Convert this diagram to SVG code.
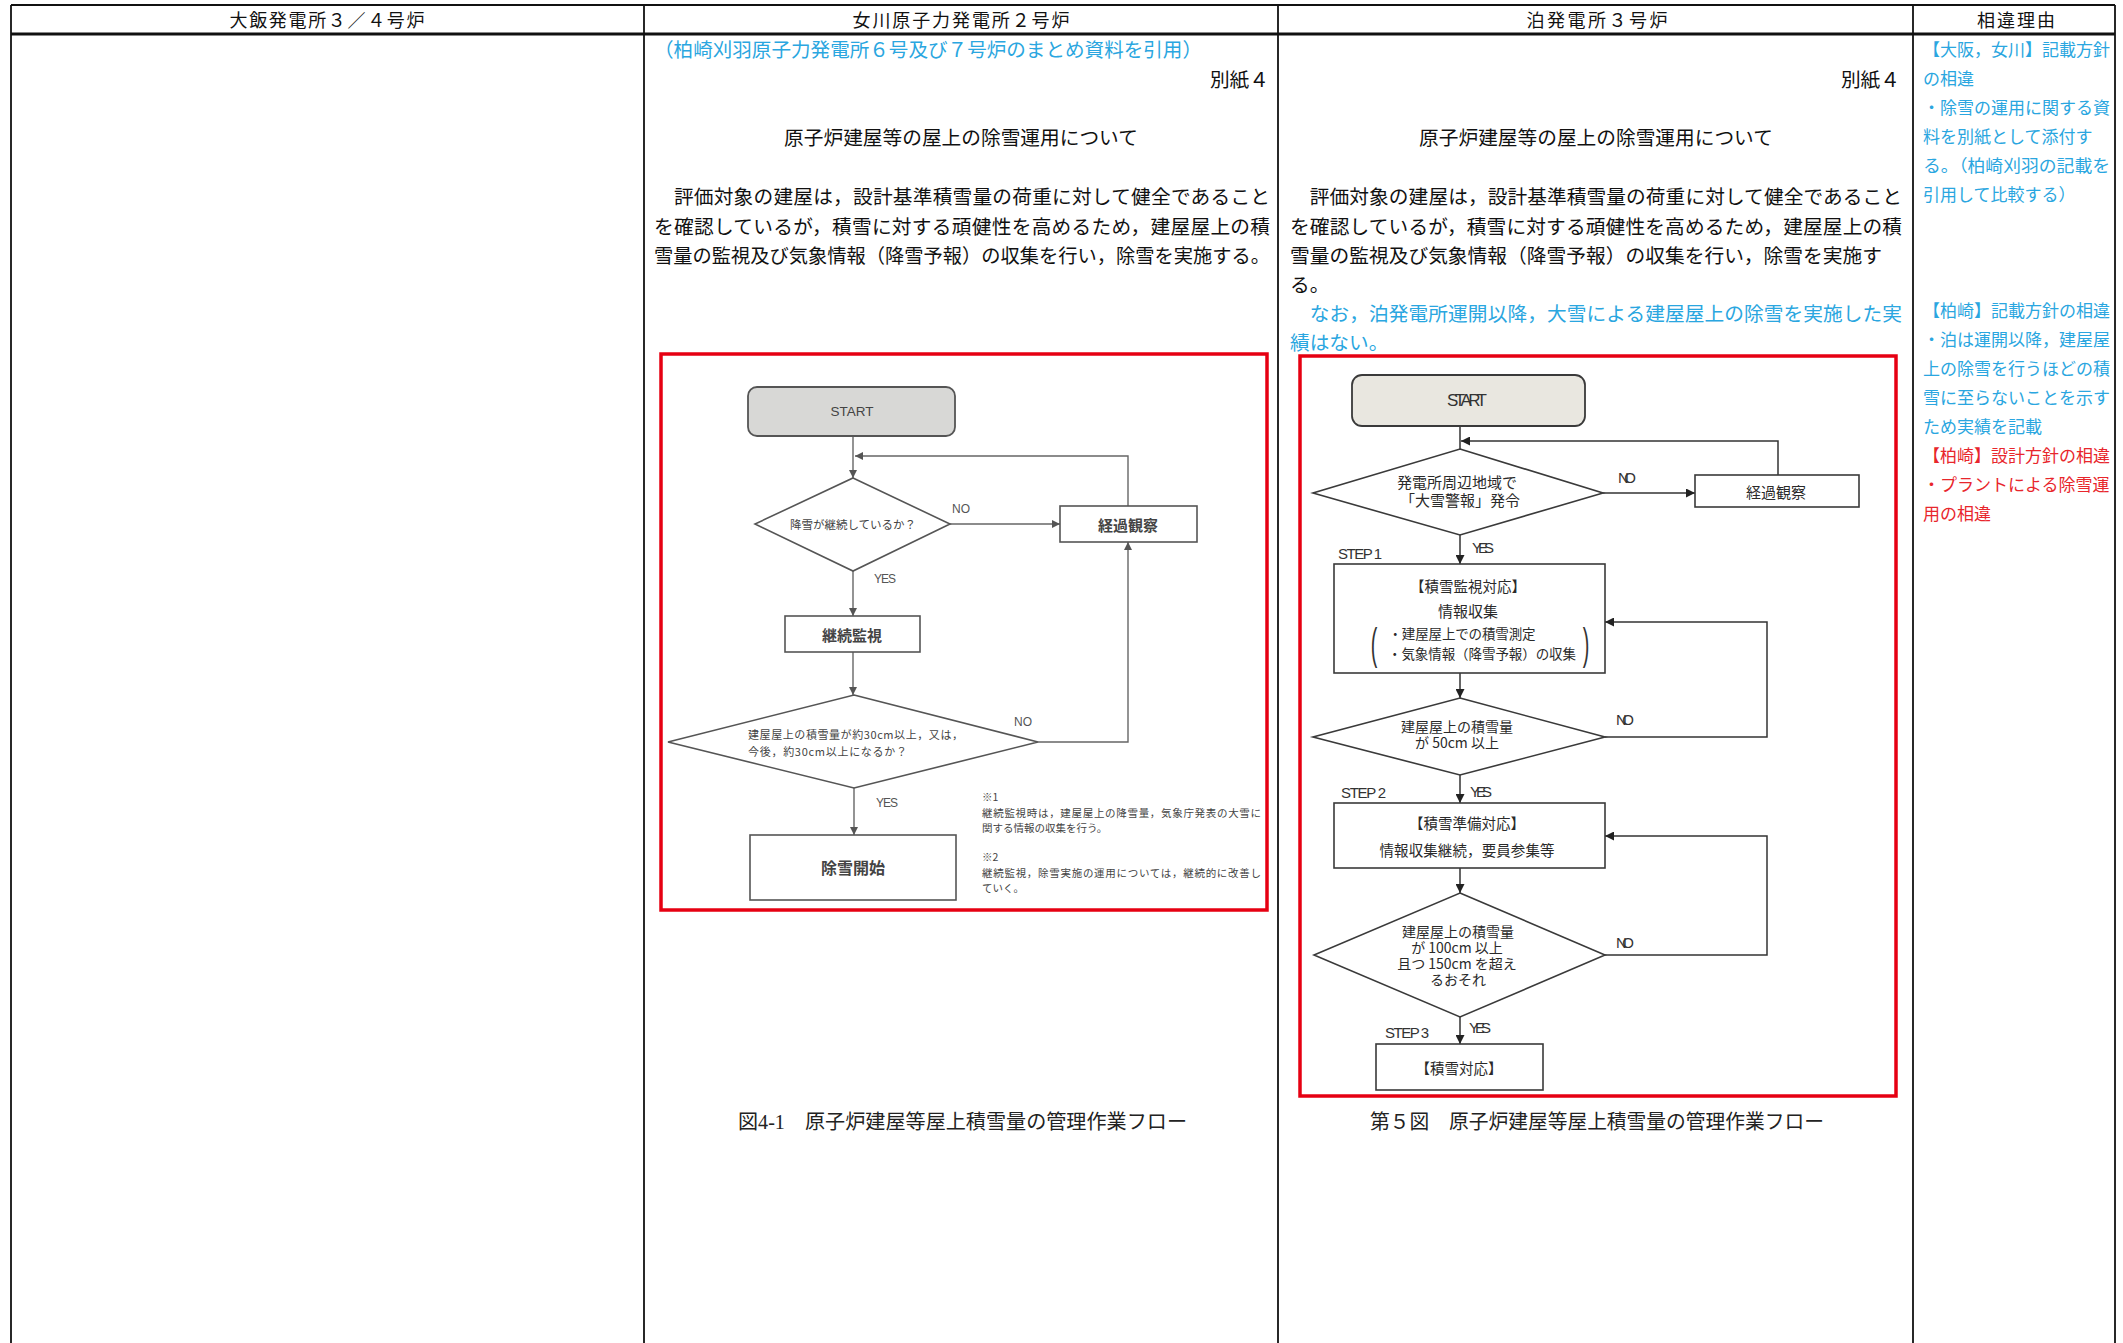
<svg xmlns="http://www.w3.org/2000/svg" width="2123" height="1343" viewBox="0 0 2123 1343">
<style>
 text { font-family: "Liberation Serif", "Noto Sans CJK JP", serif; }
 .hd { font-size: 18px; fill: #111; text-anchor: middle; dominant-baseline: central; }
 .p { font-size: 19.7px; fill: #111; dominant-baseline: central; }
 .blue { fill: #2aa6e0; }
 .red { fill: #e8262c; }
 .r4 { font-size: 17px; dominant-baseline: central; }
 .grid { stroke: #111; stroke-width: 1.8; fill: none; }
 .redbox { fill: none; stroke: #e60012; stroke-width: 3.5; }
 .o-shape { fill: #fff; stroke: #555; stroke-width: 1.6; }
 .o-start { fill: #d8d8d6; stroke: #555; stroke-width: 1.8; }
 .o-line { fill: none; stroke: #666; stroke-width: 1.4; }
 .o-t { font-family: "Noto Sans CJK JP", sans-serif; fill: #444; dominant-baseline: central; }
 .o-c { text-anchor: middle; }
 .o-lbl { font-family: "Liberation Sans", sans-serif; font-size: 12px; fill: #555; dominant-baseline: central; }
 .t-shape { fill: #fff; stroke: #3a3a3a; stroke-width: 1.6; }
 .t-start { fill: #e9e7e0; stroke: #3a3a3a; stroke-width: 1.8; }
 .t-line { fill: none; stroke: #333; stroke-width: 1.5; }
 .t-t { font-family: "Noto Sans CJK JP", sans-serif; fill: #2a2a2a; dominant-baseline: central; text-anchor: middle; font-size: 14.5px; }
 .t-lbl { font-family: "Liberation Sans", sans-serif; font-size: 15px; fill: #333; dominant-baseline: central; }
 .cap { font-size: 20px; fill: #222; dominant-baseline: central; }
</style>
<defs>
 <marker id="ao" viewBox="0 0 10 10" refX="10" refY="5" markerWidth="8" markerHeight="8" markerUnits="userSpaceOnUse" orient="auto"><path d="M0,0 L10,5 L0,10 z" fill="#555"/></marker>
 <marker id="at" viewBox="0 0 10 10" refX="10" refY="5" markerWidth="9" markerHeight="9" markerUnits="userSpaceOnUse" orient="auto"><path d="M0,0 L10,5 L0,10 z" fill="#222"/></marker>
</defs>
<rect width="2123" height="1343" fill="#fff"/>

<g id="table">
 <line class="grid" x1="11" y1="5" x2="2115" y2="5"/>
 <line class="grid" x1="11" y1="34" x2="2115" y2="34" style="stroke-width:3"/>
 <line class="grid" x1="11" y1="5" x2="11" y2="1343"/>
 <line class="grid" x1="644" y1="5" x2="644" y2="1343"/>
 <line class="grid" x1="1278" y1="5" x2="1278" y2="1343"/>
 <line class="grid" x1="1913" y1="5" x2="1913" y2="1343"/>
 <line class="grid" x1="2115" y1="5" x2="2115" y2="1343"/>
 <text class="hd" x="327" y="21" textLength="195">大飯発電所３／４号炉</text>
 <text class="hd" x="961" y="21" textLength="217">女川原子力発電所２号炉</text>
 <text class="hd" x="1597" y="21" textLength="141">泊発電所３号炉</text>
 <text class="hd" x="2016" y="21" textLength="78">相違理由</text>
</g>

<g id="onagawa-text">
 <text class="p blue" x="654" y="50" textLength="548" lengthAdjust="spacingAndGlyphs">（柏崎刈羽原子力発電所６号及び７号炉のまとめ資料を引用）</text>
 <text class="p" x="1269" y="80" text-anchor="end">別紙４</text>
 <text class="p" x="961" y="138" text-anchor="middle">原子炉建屋等の屋上の除雪運用について</text>
 <text class="p" x="654" y="197" textLength="616">　評価対象の建屋は，設計基準積雪量の荷重に対して健全であること</text>
 <text class="p" x="654" y="227" textLength="616">を確認しているが，積雪に対する頑健性を高めるため，建屋屋上の積</text>
 <text class="p" x="654" y="256" textLength="616" lengthAdjust="spacingAndGlyphs">雪量の監視及び気象情報（降雪予報）の収集を行い，除雪を実施する。</text>
 <text class="cap" x="738" y="1122" textLength="449" lengthAdjust="spacingAndGlyphs">図4-1　原子炉建屋等屋上積雪量の管理作業フロー</text>
</g>

<g id="tomari-text">
 <text class="p" x="1900" y="80" text-anchor="end">別紙４</text>
 <text class="p" x="1596" y="138" text-anchor="middle">原子炉建屋等の屋上の除雪運用について</text>
 <text class="p" x="1290" y="197" textLength="612">　評価対象の建屋は，設計基準積雪量の荷重に対して健全であること</text>
 <text class="p" x="1290" y="227" textLength="612">を確認しているが，積雪に対する頑健性を高めるため，建屋屋上の積</text>
 <text class="p" x="1290" y="256" textLength="592" lengthAdjust="spacingAndGlyphs">雪量の監視及び気象情報（降雪予報）の収集を行い，除雪を実施す</text>
 <text class="p" x="1290" y="285">る。</text>
 <text class="p blue" x="1290" y="314" textLength="612">　なお，泊発電所運開以降，大雪による建屋屋上の除雪を実施した実</text>
 <text class="p blue" x="1290" y="343">績はない。</text>
 <text class="cap" x="1370" y="1122" textLength="454" lengthAdjust="spacingAndGlyphs">第５図　原子炉建屋等屋上積雪量の管理作業フロー</text>
</g>

<g id="reasons">
 <text class="r4 blue" x="1923" y="50">【大阪，女川】記載方針</text>
 <text class="r4 blue" x="1923" y="79">の相違</text>
 <text class="r4 blue" x="1923" y="108">・除雪の運用に関する資</text>
 <text class="r4 blue" x="1923" y="137">料を別紙として添付す</text>
 <text class="r4 blue" x="1923" y="166" textLength="187" lengthAdjust="spacingAndGlyphs">る。（柏崎刈羽の記載を</text>
 <text class="r4 blue" x="1923" y="195">引用して比較する）</text>
 <text class="r4 blue" x="1923" y="311">【柏崎】記載方針の相違</text>
 <text class="r4 blue" x="1923" y="340">・泊は運開以降，建屋屋</text>
 <text class="r4 blue" x="1923" y="369">上の除雪を行うほどの積</text>
 <text class="r4 blue" x="1923" y="398">雪に至らないことを示す</text>
 <text class="r4 blue" x="1923" y="427">ため実績を記載</text>
 <text class="r4 red" x="1923" y="456">【柏崎】設計方針の相違</text>
 <text class="r4 red" x="1923" y="485">・プラントによる除雪運</text>
 <text class="r4 red" x="1923" y="514">用の相違</text>
</g>

<rect id="onagawa-frame" class="redbox" x="661" y="354" width="606" height="556"/>
<rect id="tomari-frame" class="redbox" x="1300" y="356" width="596" height="740"/>

<g id="connectors">
 <path class="o-line" d="M853,436 V478" marker-end="url(#ao)"/>
 <path class="o-line" d="M1128,506 V456 H855" marker-end="url(#ao)"/>
 <path class="o-line" d="M950,524 H1060" marker-end="url(#ao)"/>
 <path class="o-line" d="M853,571 V616" marker-end="url(#ao)"/>
 <path class="o-line" d="M853,652 V695" marker-end="url(#ao)"/>
 <path class="o-line" d="M1038,742 H1128 V542" marker-end="url(#ao)"/>
 <path class="o-line" d="M854,788 V835" marker-end="url(#ao)"/>

 <path class="t-line" d="M1460,426 V449"/>
 <path class="t-line" d="M1778,475 V441 H1461" marker-end="url(#at)"/>
 <path class="t-line" d="M1603,493 H1695" marker-end="url(#at)"/>
 <path class="t-line" d="M1460,535 V564" marker-end="url(#at)"/>
 <path class="t-line" d="M1460,673 V698" marker-end="url(#at)"/>
 <path class="t-line" d="M1605,737 H1767 V622 H1605" marker-end="url(#at)"/>
 <path class="t-line" d="M1460,775 V803" marker-end="url(#at)"/>
 <path class="t-line" d="M1460,868 V893" marker-end="url(#at)"/>
 <path class="t-line" d="M1605,955 H1767 V836 H1605" marker-end="url(#at)"/>
 <path class="t-line" d="M1460,1017 V1044" marker-end="url(#at)"/>
</g>

<g id="o-labels">
 <text class="o-lbl" x="952" y="509">NO</text>
 <text class="o-lbl" x="874" y="579" textLength="22">YES</text>
 <text class="o-lbl" x="1014" y="722">NO</text>
 <text class="o-lbl" x="876" y="803" textLength="22">YES</text>
</g>

<g id="o-start">
 <rect class="o-start" x="748" y="387" width="207" height="49" rx="9"/>
 <text class="o-lbl" x="852" y="411" text-anchor="middle" style="font-size:13.5px;fill:#444">START</text>
</g>
<g id="o-d1">
 <polygon class="o-shape" points="853,478 950,524 853,571 755,524"/>
 <text class="o-t o-c" x="853" y="524" style="font-size:11.5px" textLength="126">降雪が継続しているか？</text>
</g>
<g id="o-watch">
 <rect class="o-shape" x="1060" y="506" width="137" height="36"/>
 <text class="o-t o-c" x="1128" y="524" style="font-size:15px;font-weight:bold">経過観察</text>
</g>
<g id="o-monitor">
 <rect class="o-shape" x="785" y="616" width="135" height="36"/>
 <text class="o-t o-c" x="852" y="634" style="font-size:15px;font-weight:bold">継続監視</text>
</g>
<g id="o-d2">
 <polygon class="o-shape" points="854,695 1038,742 854,788 668,742"/>
 <text class="o-t" x="748" y="734" style="font-size:11px" textLength="215">建屋屋上の積雪量が約30cm以上，又は，</text>
 <text class="o-t" x="748" y="751" style="font-size:11px" textLength="159">今後，約30cm以上になるか？</text>
</g>
<g id="o-remove">
 <rect class="o-shape" x="750" y="835" width="206" height="65"/>
 <text class="o-t o-c" x="853" y="867" style="font-size:16px;font-weight:bold">除雪開始</text>
</g>
<g id="o-notes">
 <text class="o-t" x="982" y="796" style="font-size:10.5px">※1</text>
 <text class="o-t" x="982" y="812" style="font-size:10.5px" textLength="279">継続監視時は，建屋屋上の降雪量，気象庁発表の大雪に</text>
 <text class="o-t" x="982" y="827" style="font-size:10.5px">関する情報の収集を行う。</text>
 <text class="o-t" x="982" y="856" style="font-size:10.5px">※2</text>
 <text class="o-t" x="982" y="872" style="font-size:10.5px" textLength="279">継続監視，除雪実施の運用については，継続的に改善し</text>
 <text class="o-t" x="982" y="887" style="font-size:10.5px">ていく。</text>
</g>

<g id="t-labels">
 <text class="t-lbl" x="1618" y="477" textLength="18">NO</text>
 <text class="t-lbl" x="1472" y="547" textLength="22">YES</text>
 <text class="t-lbl" x="1338" y="553" textLength="44">STEP 1</text>
 <text class="t-lbl" x="1616" y="719" textLength="18">NO</text>
 <text class="t-lbl" x="1470" y="791" textLength="22">YES</text>
 <text class="t-lbl" x="1341" y="792" textLength="45">STEP 2</text>
 <text class="t-lbl" x="1616" y="942" textLength="18">NO</text>
 <text class="t-lbl" x="1469" y="1027" textLength="22">YES</text>
 <text class="t-lbl" x="1385" y="1032" textLength="44">STEP 3</text>
</g>

<g id="t-start">
 <rect class="t-start" x="1352" y="375" width="233" height="51" rx="10"/>
 <text class="t-lbl" x="1467" y="400" text-anchor="middle" textLength="40" style="font-size:17px">START</text>
</g>
<g id="t-d1">
 <polygon class="t-shape" points="1460,449 1603,493 1460,535 1313,493"/>
 <text class="t-t" x="1457" y="481" style="font-size:15px">発電所周辺地域で</text>
 <text class="t-t" x="1460" y="499" style="font-size:15px">「大雪警報」発令</text>
</g>
<g id="t-watch">
 <rect class="t-shape" x="1695" y="475" width="164" height="32"/>
 <text class="t-t" x="1776" y="491" style="font-size:15px">経過観察</text>
</g>
<g id="t-step1">
 <rect class="t-shape" x="1334" y="564" width="271" height="109"/>
 <text class="t-t" x="1468" y="585">【積雪監視対応】</text>
 <text class="t-t" x="1468" y="610" style="font-size:15px">情報収集</text>
 <text class="t-t" x="1462" y="633" style="font-size:13.5px" textLength="147">・建屋屋上での積雪測定</text>
 <text class="t-t" x="1482" y="653" style="font-size:13.5px" textLength="188">・気象情報（降雪予報）の収集</text>
 <text class="t-lbl" x="1374" y="644" text-anchor="middle" transform="translate(1374 644) scale(0.45 1) translate(-1374 -644)" style="font-size:44px">(</text>
 <text class="t-lbl" x="1586" y="644" text-anchor="middle" transform="translate(1586 644) scale(0.45 1) translate(-1586 -644)" style="font-size:44px">)</text>
</g>
<g id="t-d2">
 <polygon class="t-shape" points="1460,698 1605,737 1460,775 1313,737"/>
 <text class="t-t" x="1457" y="726" style="font-size:14px">建屋屋上の積雪量</text>
 <text class="t-t" x="1457" y="742" style="font-size:14px">が 50cm 以上</text>
</g>
<g id="t-step2">
 <rect class="t-shape" x="1334" y="803" width="271" height="65"/>
 <text class="t-t" x="1467" y="822">【積雪準備対応】</text>
 <text class="t-t" x="1467" y="849" textLength="175">情報収集継続，要員参集等</text>
</g>
<g id="t-d3">
 <polygon class="t-shape" points="1460,893 1605,955 1460,1017 1314,955"/>
 <text class="t-t" x="1458" y="931" style="font-size:14px">建屋屋上の積雪量</text>
 <text class="t-t" x="1457" y="947" style="font-size:14px">が 100cm 以上</text>
 <text class="t-t" x="1457" y="963" style="font-size:14px">且つ 150cm を超え</text>
 <text class="t-t" x="1458" y="979" style="font-size:14px">るおそれ</text>
</g>
<g id="t-step3">
 <rect class="t-shape" x="1376" y="1044" width="167" height="46"/>
 <text class="t-t" x="1459" y="1067">【積雪対応】</text>
</g>
</svg>
